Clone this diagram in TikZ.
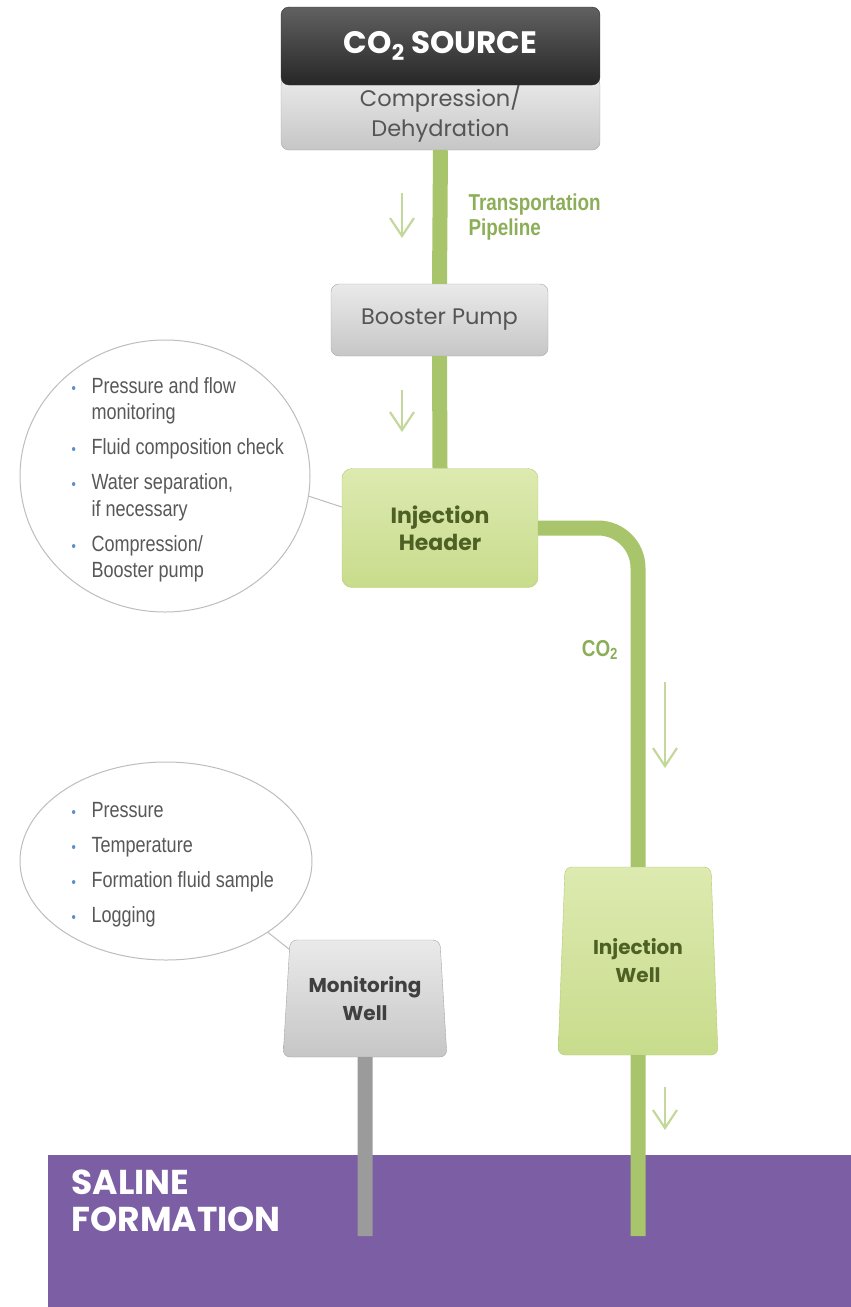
\documentclass[tikz,border=0pt]{standalone}
\usepackage{fontspec}
\setmainfont{Poppins}
\newfontfamily\narrowsans[FakeStretch=0.82]{Liberation Sans}
\usepackage{xcolor}
\usetikzlibrary{arrows.meta,shapes.geometric,calc}

\definecolor{pipegreen}{HTML}{A9C56B}
\definecolor{labelgreen}{HTML}{8DAE58}
\definecolor{arrowgreen}{HTML}{C4D89C}
\definecolor{hdrtop}{HTML}{DDEAB0}
\definecolor{hdrbot}{HTML}{C8DC8C}
\definecolor{hdredge}{HTML}{B3CB75}
\definecolor{darkgreen}{HTML}{4E6024}
\definecolor{salinepurple}{HTML}{7B5EA4}
\definecolor{bulletblue}{HTML}{5B8CCB}
\definecolor{listgray}{HTML}{585858}
\definecolor{calloutgray}{HTML}{BDBDBD}
\definecolor{pipegray}{HTML}{9B9B9B}
\definecolor{boxtop}{HTML}{EAEAEA}
\definecolor{boxbot}{HTML}{C6C6C6}
\definecolor{boxedge}{HTML}{A6A6A6}
\definecolor{boxtext}{HTML}{555555}

\newcommand{\bul}{\makebox[20pt][l]{\textcolor{bulletblue}{\fontsize{15}{15}\selectfont\textbullet}}}

\tikzset{
  graybox/.style={rectangle, rounded corners=8pt, draw=boxedge, top color=boxtop,
    bottom color=boxbot, text=boxtext, align=center, font=\fontsize{22.5}{30}\selectfont},
  darkbox/.style={rectangle, rounded corners=8pt, draw=black!80, top color=black!62,
    bottom color=black!85, text=white, font=\fontsize{31}{32}\selectfont\bfseries},
  greenbox/.style={rectangle, rounded corners=10pt, draw=hdredge, top color=hdrtop,
    bottom color=hdrbot, text=darkgreen, align=center, font=\fontsize{22}{27}\selectfont\bfseries},
  well/.style={trapezium, trapezium stretches=true, rounded corners=7pt, align=center,
    font=\fontsize{20}{28}\selectfont\bfseries},
  pipe/.style={line width=15pt, pipegreen},
  flow/.style={line width=2.2pt, arrowgreen, -{Straight Barb[length=18pt,width=24pt]}},
  bubble/.style={ellipse, draw=calloutgray, line width=1pt, fill=white},
  callout/.style={draw=calloutgray, line width=1pt},
  listtext/.style={anchor=west, align=left, text=listgray, font=\narrowsans\fontsize{22}{26.5}\selectfont},
  pipelabel/.style={text=labelgreen, align=left, font=\narrowsans\bfseries\fontsize{23}{25}\selectfont}
}

\begin{document}
\begin{tikzpicture}[x=1pt,y=-1pt]
\useasboundingbox (0,0) rectangle (851,1307);

% formation at the bottom
\node (sal) at (449.5,1231) [rectangle, fill=salinepurple, minimum width=803pt, minimum height=152pt] {};
\node (sallbl) at (68,1201) [anchor=west, align=left, text=white, font=\fontsize{34.5}{37}\selectfont\bfseries] {SALINE\\FORMATION};

% surface chain
\node (comp) at (440.5,113.5) [graybox, minimum width=319pt, minimum height=73pt] {Compression/\\Dehydration};
\node (src) at (440.5,46) [darkbox, minimum width=319pt, minimum height=78pt] {CO\textsubscript{2} SOURCE};
\node (pump) at (439.5,320) [graybox, minimum width=217pt, minimum height=72pt] {Booster Pump};
\node (hdr) at (440,528) [greenbox, minimum width=196pt, minimum height=119pt] {Injection\\Header};

% wells
\node (iw) at (638,961) [well, draw=hdredge, top color=hdrtop, bottom color=hdrbot, text=darkgreen,
  minimum width=160pt, minimum height=188pt, trapezium left angle=84.8, trapezium right angle=84.8] {Injection\\Well};
\node (mw) at (365,998.5) [well, draw=boxedge, top color=boxtop, bottom color=boxbot, text=black!75,
  minimum width=164pt, minimum height=117pt, trapezium left angle=83.7, trapezium right angle=83.7] {Monitoring\\Well};

\coordinate (iwend) at (638,1236);
\coordinate (mwend) at (365,1236);

\draw[pipe] (comp.south) -- (pump.north);
\draw[pipe] (pump.south) -- (hdr.north);
\draw[pipe, rounded corners=40pt] (hdr.east) -| (iw.north);
\draw[pipe] (iw.south) -- (iwend);
\draw[pipe, pipegray] (mw.south) -- (mwend);

% flow arrows
\coordinate (a1) at (402,193); \coordinate (b1) at (402,238);
\coordinate (a2) at (402,390); \coordinate (b2) at (402,432);
\coordinate (a3) at (665,682); \coordinate (b3) at (665,768);
\coordinate (a4) at (665,1087); \coordinate (b4) at (665,1130);
\draw[flow] (a1) -- (b1);
\draw[flow] (a2) -- (b2);
\draw[flow] (a3) -- (b3);
\draw[flow] (a4) -- (b4);

\node (tpl) at (465,217) [anchor=west, pipelabel] {Transportation\\Pipeline};
\node (colbl) at (600,650) [pipelabel] {CO\textsubscript{2}};

% checks at the header
\node (chk1) at (165,476) [bubble, minimum width=290pt, minimum height=272pt] {};
\node (chk1txt) at (68,480) [listtext] {\bul Pressure and flow\\ \hspace*{20pt}monitoring\\[8.5pt]
  \bul Fluid composition check\\[8.5pt]
  \bul Water separation,\\ \hspace*{20pt}if necessary\\[8.5pt]
  \bul Compression/\\ \hspace*{20pt}Booster pump};
\draw[callout] (chk1.-8) -- ([yshift=21pt]hdr.west);

% checks at the monitoring well
\node (chk2) at (166,861) [bubble, minimum width=292pt, minimum height=198pt] {};
\node (chk2txt) at (68,865) [listtext] {\bul Pressure\\[8.5pt]
  \bul Temperature\\[8.5pt]
  \bul Formation fluid sample\\[8.5pt]
  \bul Logging};
\draw[callout] (chk2.-35) -- ([yshift=-10pt]mw.top left corner);

\end{tikzpicture}
\end{document}
